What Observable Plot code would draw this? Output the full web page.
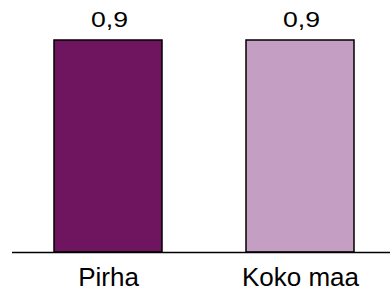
<!DOCTYPE html>
<html>
<head>
<meta charset="utf-8">
<script src="https://cdn.jsdelivr.net/npm/d3@7"></script>
<script src="https://cdn.jsdelivr.net/npm/@observablehq/plot@0.6"></script>
<style>
  html, body { margin: 0; padding: 0; background: #fff; }
  #chart { width: 390px; height: 292px; }
</style>
</head>
<body>
<div id="chart"></div>
<script>
const categories = ["Pirha", "Koko maa"];
const values = [0.9, 0.9];
const valueLabels = ["0,9", "0,9"];
const colors = ["#6f1560", "#c59fc3"];

const data = categories.map((c, i) => ({ cat: c, value: values[i], label: valueLabels[i], color: colors[i] }));

const chart = Plot.plot({
  width: 390,
  height: 292,
  marginTop: 40,
  marginBottom: 40,
  marginLeft: 12,
  marginRight: 0,
  style: { fontFamily: "'Liberation Sans', Arial, sans-serif", fontSize: "26px", background: "#fff", color: "#000" },
  x: { domain: categories, range: [14.4, 392.6], paddingInner: 0.44, paddingOuter: 0.2, label: null },
  y: { domain: [0, 0.9], axis: null },
  marks: [
    Plot.barY(data, { x: "cat", y: "value", fill: "color", stroke: "#000", strokeWidth: 1.5 }),
    Plot.text(data, { x: "cat", y: "value", text: "label", dy: -21, dx: 1, fontSize: 22, fill: "#000" }),
    Plot.ruleY([0], { stroke: "#000", strokeWidth: 1.5 }),
    Plot.axisX({ tickSize: 0, tickPadding: 15, fontSize: 26, label: null, fill: "#000" })
  ]
});
d3.select(chart).selectAll('g[aria-label="text"] text')
  .style("font-size", "22px")
  .attr("textLength", 37)
  .attr("lengthAdjust", "spacingAndGlyphs");
document.getElementById("chart").appendChild(chart);
</script>
</body>
</html>
